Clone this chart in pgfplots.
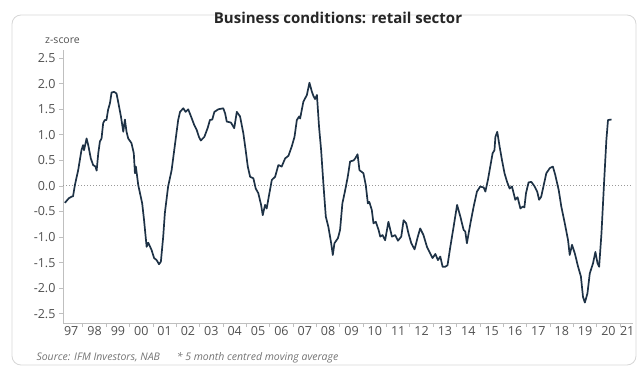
\documentclass[border=0pt]{standalone}
\usepackage{pgfplots}
\pgfplotsset{compat=1.18}
\usepackage{fontspec}
\setmainfont{Open Sans}
\definecolor{linec}{HTML}{1E3246}
\definecolor{axc}{HTML}{BFBFBF}
\definecolor{labc}{HTML}{505050}
\definecolor{framec}{HTML}{D6D6D6}
\begin{document}
\begin{tikzpicture}[x=1pt,y=1pt]
\useasboundingbox (0,0) rectangle (638,367);
\draw[framec, line width=0.8pt, rounded corners=9pt] (12,2) rectangle (636,352);
\node[font=\fontsize{15}{17}\selectfont\bfseries, text=black!85] at (338,349) {Business conditions: retail sector};
\node[font=\fontsize{10.5}{12}\selectfont, text=labc] at (62.5,326) {z-score};
\node[font=\fontsize{10.5}{12}\selectfont\itshape, text=black!55, anchor=west] at (33,9) {Source: IFM Investors, NAB\hspace{1.6em}* 5 month centred moving average};
\begin{axis}[
  at={(63pt,44pt)}, anchor=south west,
  scale only axis, width=570pt, height=273pt,
  xmin=1997.15, xmax=2021.55, ymin=-2.68, ymax=2.66,
  axis x line*=bottom, axis y line*=left,
  axis line style={axc, line width=0.8pt},
  tick style={axc, line width=0.8pt},
  tick align=outside, major tick length=4pt,
  ytick={-2.5,-2,...,2.5},
  yticklabel style={/pgf/number format/.cd, fixed, fixed zerofill, precision=1, assume math mode=true},
  tick label style={font=\fontsize{12.5}{14}\selectfont, text=labc},
  xtick={1998,1999,...,2021},
  xticklabels={},
  extra x ticks={1997.5,1998.5,1999.5,2000.5,2001.5,2002.5,2003.5,2004.5,2005.5,2006.5,2007.5,2008.5,2009.5,2010.5,2011.5,2012.5,2013.5,2014.5,2015.5,2016.5,2017.5,2018.5,2019.5,2020.5,2021.3},
  extra x tick labels={97,98,99,00,01,02,03,04,05,06,07,08,09,10,11,12,13,14,15,16,17,18,19,20,21},
  extra x tick style={major tick length=0pt, tick style={draw=none}},
  clip=false,
]
\addplot[axc!80!black, dotted, line width=1pt, forget plot] coordinates {(1997.15,0) (2021.55,0)};
\addplot[linec, line width=1.7pt, line join=round] coordinates {
(1997.23,-0.33)(1997.40,-0.24)(1997.51,-0.21)(1997.58,-0.20)(1997.66,0.02)(1997.80,0.31)(1997.94,0.70)(1998.01,0.80)(1998.05,0.70)(1998.16,0.93)(1998.23,0.80)(1998.34,0.54)(1998.44,0.41)(1998.54,0.38)(1998.59,0.30)(1998.66,0.64)(1998.73,0.87)(1998.80,0.93)(1998.87,1.23)(1998.94,1.29)(1999.01,1.29)(1999.08,1.49)(1999.16,1.62)(1999.23,1.83)(1999.34,1.84)(1999.44,1.81)(1999.51,1.65)(1999.63,1.36)(1999.73,1.06)(1999.80,1.30)(1999.87,1.06)(1999.94,0.93)(2000.08,0.84)(2000.18,0.64)(2000.23,0.25)(2000.27,0.38)(2000.37,0.02)(2000.54,-0.34)(2000.62,-0.67)(2000.73,-1.19)(2000.80,-1.11)(2000.94,-1.25)(2001.05,-1.41)(2001.16,-1.45)(2001.26,-1.53)(2001.34,-1.48)(2001.44,-0.99)(2001.51,-0.53)(2001.65,-0.01)(2001.80,0.31)(2001.94,0.80)(2002.08,1.29)(2002.16,1.45)(2002.30,1.52)(2002.40,1.45)(2002.51,1.50)(2002.63,1.36)(2002.77,1.19)(2002.87,1.10)(2002.97,0.96)(2003.05,0.89)(2003.20,0.96)(2003.34,1.13)(2003.44,1.29)(2003.54,1.30)(2003.63,1.45)(2003.80,1.50)(2004.01,1.52)(2004.09,1.42)(2004.16,1.26)(2004.34,1.24)(2004.48,1.13)(2004.59,1.45)(2004.73,1.36)(2004.87,1.03)(2004.97,0.70)(2005.06,0.38)(2005.16,0.18)(2005.30,0.15)(2005.40,-0.05)(2005.51,-0.14)(2005.63,-0.37)(2005.70,-0.57)(2005.80,-0.37)(2005.87,-0.44)(2005.97,-0.18)(2006.09,0.12)(2006.23,0.18)(2006.37,0.41)(2006.51,0.38)(2006.66,0.54)(2006.80,0.59)(2006.94,0.77)(2007.06,0.96)(2007.16,1.29)(2007.26,1.36)(2007.30,1.32)(2007.44,1.65)(2007.59,1.78)(2007.70,2.02)(2007.80,1.85)(2007.87,1.76)(2007.94,1.70)(2008.02,1.78)(2008.11,1.16)(2008.20,0.70)(2008.30,0.02)(2008.40,-0.60)(2008.51,-0.80)(2008.63,-1.12)(2008.70,-1.35)(2008.77,-1.12)(2008.92,-1.02)(2009.01,-0.86)(2009.11,-0.34)(2009.23,-0.08)(2009.34,0.18)(2009.44,0.48)(2009.59,0.50)(2009.66,0.54)(2009.76,0.62)(2009.84,0.31)(2010.01,0.25)(2010.11,0.02)(2010.20,-0.34)(2010.26,-0.31)(2010.37,-0.47)(2010.44,-0.73)(2010.54,-0.70)(2010.66,-0.86)(2010.73,-0.99)(2010.83,-0.96)(2010.94,-1.06)(2011.08,-0.70)(2011.23,-0.99)(2011.37,-0.96)(2011.49,-1.07)(2011.63,-0.99)(2011.73,-0.67)(2011.84,-0.73)(2011.94,-0.93)(2012.06,-1.12)(2012.20,-1.24)(2012.34,-0.99)(2012.44,-0.83)(2012.58,-0.96)(2012.73,-1.19)(2012.87,-1.32)(2012.97,-1.41)(2013.09,-1.33)(2013.20,-1.45)(2013.30,-1.38)(2013.40,-1.58)(2013.51,-1.58)(2013.61,-1.55)(2013.73,-1.19)(2013.87,-0.80)(2014.02,-0.37)(2014.16,-0.60)(2014.30,-0.86)(2014.37,-0.89)(2014.44,-1.12)(2014.59,-0.73)(2014.73,-0.40)(2014.87,-0.11)(2015.01,-0.01)(2015.16,-0.03)(2015.23,-0.11)(2015.34,0.12)(2015.44,0.38)(2015.54,0.64)(2015.62,0.70)(2015.66,0.96)(2015.74,1.06)(2015.84,0.77)(2015.94,0.51)(2016.05,0.25)(2016.16,0.08)(2016.27,-0.05)(2016.37,-0.01)(2016.44,-0.14)(2016.51,-0.27)(2016.61,-0.22)(2016.73,-0.44)(2016.84,-0.40)(2016.90,-0.42)(2016.97,-0.14)(2017.08,0.07)(2017.20,0.08)(2017.34,-0.01)(2017.45,-0.11)(2017.53,-0.27)(2017.62,-0.21)(2017.84,0.25)(2017.99,0.35)(2018.12,0.38)(2018.22,0.22)(2018.37,-0.08)(2018.48,-0.40)(2018.63,-0.73)(2018.77,-1.06)(2018.84,-1.35)(2018.94,-1.15)(2019.06,-1.32)(2019.20,-1.58)(2019.32,-1.77)(2019.41,-2.17)(2019.49,-2.28)(2019.60,-2.10)(2019.70,-1.71)(2019.84,-1.51)(2019.94,-1.29)(2020.03,-1.51)(2020.10,-1.58)(2020.20,-0.93)(2020.31,0.05)(2020.41,0.90)(2020.48,1.29)(2020.63,1.30)
};
\end{axis}
\end{tikzpicture}
\end{document}
